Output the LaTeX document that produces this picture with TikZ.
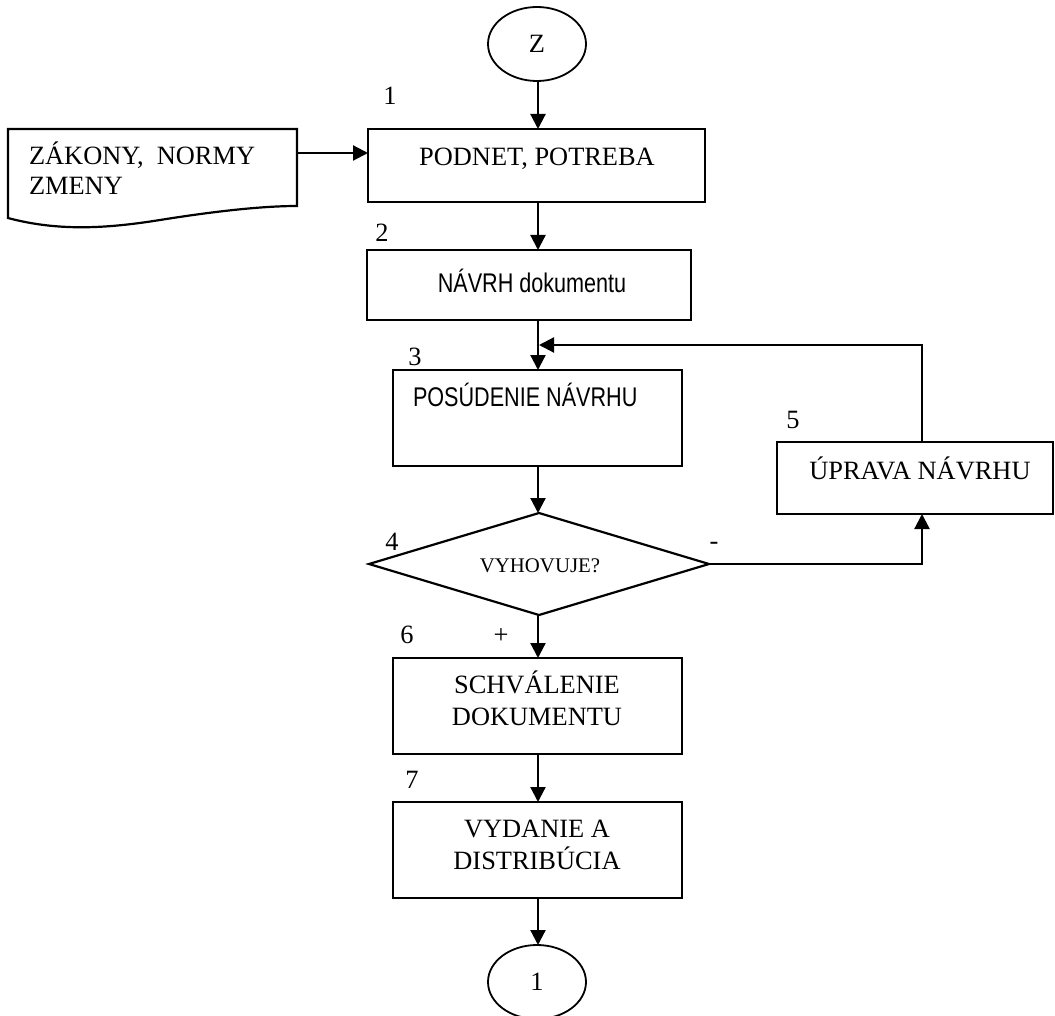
\documentclass[tikz,border=0pt]{standalone}
\usepackage{fontspec}
\setmainfont{Liberation Serif}
\newfontfamily\nsans[FakeStretch=0.8]{Liberation Sans}
\usetikzlibrary{arrows.meta,shapes.geometric}
\begin{document}
\begin{tikzpicture}[x=1pt,y=-1pt,
  every node/.style={inner sep=0pt, outer sep=0pt},
  boxnode/.style={draw, line width=2.2pt, rectangle},
  ovalnode/.style={draw, line width=1.8pt, ellipse, minimum width=98pt, minimum height=74pt},
  serif/.style={font=\fontsize{26.4}{30}\selectfont},
  small/.style={font=\fontsize{20.8}{24}\selectfont},
  sans/.style={font=\fontsize{27}{30}\nsans},
  arr/.style={line width=2.2pt, -{Triangle[length=15pt,width=15pt]}},
  ln/.style={line width=2.2pt}]
\useasboundingbox (0,0) rectangle (1055,1016);
\coordinate (axis) at (538,0);
\coordinate (col5) at (922,0);
\coordinate (fb) at (539,345);

% start / end ellipses
\node[ovalnode, serif] (z) at (537,44) {Z};
\node[ovalnode, serif] (e1) at (537,982) {1};

% document shape
\draw[line width=2.2pt] (8,218) -- (8,129) -- (297,129) -- (297,206)
  .. controls (260,206) and (210,212) .. (160,220)
  .. controls (110,228) and (60,232) .. (8,218) -- cycle;
\coordinate (docr) at (297,153);
\node[serif, anchor=base west] (tz1) at (29,165) {ZÁKONY,\ \ NORMY};
\node[serif, anchor=base west] (tz2) at (29,195) {ZMENY};

% boxes
\node[boxnode, minimum width=337pt, minimum height=73pt] (b1) at (536.5,165.5) {};
\node[boxnode, minimum width=324pt, minimum height=70pt] (b2) at (529,285) {};
\node[boxnode, minimum width=289pt, minimum height=96pt] (b3) at (537.5,418) {};
\node[draw, line width=2.2pt, diamond, minimum width=340pt, minimum height=102pt] (d) at (539,564) {};
\node[boxnode, minimum width=276pt, minimum height=72pt] (b5) at (915,478) {};
\node[boxnode, minimum width=289pt, minimum height=96pt] (b6) at (537.5,706) {};
\node[boxnode, minimum width=289pt, minimum height=96pt] (b7) at (537.5,850) {};

% box texts
\node[serif, anchor=base] (t1) at (537,166) {PODNET, POTREBA};
\node[sans, anchor=base] (t2) at (532,293) {NÁVRH dokumentu};
\node[sans, anchor=base west] (t3) at (413,406) {POSÚDENIE NÁVRHU};
\node[small, anchor=base] (t4) at (540,572) {VYHOVUJE?};
\node[serif, anchor=base] (t5) at (920,479) {ÚPRAVA NÁVRHU};
\node[serif, anchor=base] (t6a) at (537,693) {SCHVÁLENIE};
\node[serif, anchor=base] (t6b) at (537,725) {DOKUMENTU};
\node[serif, anchor=base] (t7a) at (537,837) {VYDANIE A};
\node[serif, anchor=base] (t7b) at (537,869) {DISTRIBÚCIA};

% step numbers
\node[serif, anchor=base] (n1) at (390,105) {1};
\node[serif, anchor=base] (n2) at (382,242) {2};
\node[serif, anchor=base] (n3) at (415,366) {3};
\node[serif, anchor=base] (n4) at (392,550) {4};
\node[serif, anchor=base] (n5) at (793,428) {5};
\node[serif, anchor=base] (n6) at (407,643) {6};
\node[serif, anchor=base] (n7) at (412,788) {7};
\node[serif, anchor=base] (minus) at (714,549) {-};
\node[serif, anchor=base] (plus) at (501,643) {+};

% connectors
\draw[arr] (z.south -| axis) -- (b1.north -| axis);
\draw[arr] (docr) -- (docr -| b1.west);
\draw[arr] (b1.south -| axis) -- (b2.north -| axis);
\draw[arr] (b2.south -| axis) -- (b3.north -| axis);
\draw[arr] (b5.north -| col5) -- (col5 |- fb) -- (fb);
\draw[arr] (b3.south -| axis) -- (d.north -| axis);
\draw[arr] (d.east) -- (d.east -| col5) -- (b5.south -| col5);
\draw[arr] (d.south -| axis) -- (b6.north -| axis);
\draw[arr] (b6.south -| axis) -- (b7.north -| axis);
\draw[arr] (b7.south -| axis) -- (e1.north -| axis);
\end{tikzpicture}
\end{document}
